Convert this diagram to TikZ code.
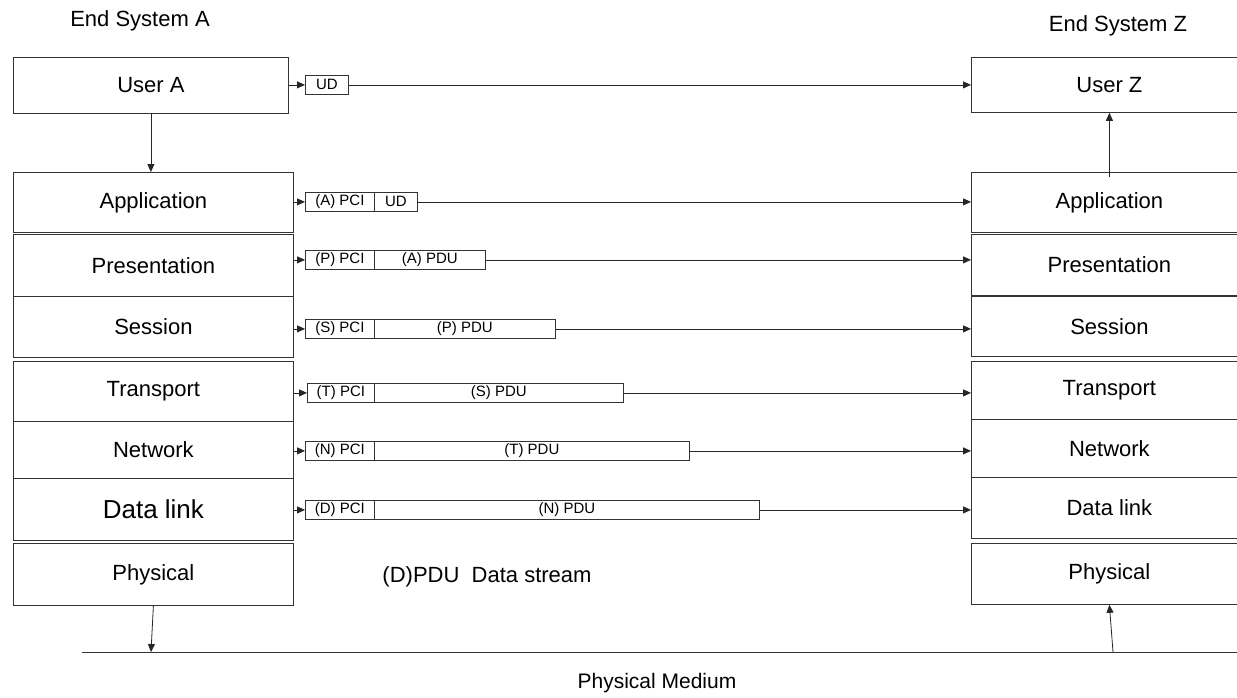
\documentclass[tikz,border=0pt]{standalone}
\usepackage{fontspec}
\setmainfont{Liberation Sans}
\usetikzlibrary{arrows.meta}
\begin{document}
\begin{tikzpicture}[x=1pt,y=-1pt,
  line width=0.8pt,
  layer/.style={draw=black!80, inner sep=0pt, anchor=north west, font=\fontsize{22}{26}\selectfont},
  pdu/.style={draw=black!80, inner sep=0pt, anchor=north west, minimum height=19pt, font=\fontsize{15}{18}\selectfont},
  flow/.style={-{Triangle[length=8pt,width=7pt]}, draw=black!85},
  lbl/.style={inner sep=0pt, font=\fontsize{22}{26}\selectfont},
  ]
\clip (0,0) rectangle (1237,697);
\fill[white] (0,0) rectangle (1237,697);
% left column
\node[layer, minimum width=275pt, minimum height=56pt] (userA) at (13,57) {User A};
\node[layer, minimum width=280pt, minimum height=60pt] (appA) at (13,172) {Application};
\node[layer, minimum width=280pt, minimum height=62pt] (preA) at (13,234) {Presentation};
\node[layer, minimum width=280pt, minimum height=61pt] (sesA) at (13,296) {Session};
\node[layer, minimum width=280pt, minimum height=60pt] (traA) at (13,361) {Transport};
\node[layer, minimum width=280pt, minimum height=57pt] (netA) at (13,421) {Network};
\node[layer, minimum width=280pt, minimum height=62pt, font=\fontsize{26}{30}\selectfont] (dlA) at (13,478) {Data link};
\node[layer, minimum width=280pt, minimum height=62pt] (phyA) at (13,543) {Physical};
% right column
\node[layer, minimum width=276pt, minimum height=55pt] (userZ) at (971,57) {User Z};
\node[layer, minimum width=276pt, minimum height=60pt] (appZ) at (971,172) {Application};
\node[layer, minimum width=276pt, minimum height=61pt] (preZ) at (971,234) {Presentation};
\node[layer, minimum width=276pt, minimum height=60pt] (sesZ) at (971,296) {Session};
\node[layer, minimum width=276pt, minimum height=58pt] (traZ) at (971,361) {Transport};
\node[layer, minimum width=276pt, minimum height=58pt] (netZ) at (971,419) {Network};
\node[layer, minimum width=276pt, minimum height=61pt] (dlZ) at (971,477) {Data link};
\node[layer, minimum width=276pt, minimum height=61pt] (phyZ) at (971,543) {Physical};
% PDU boxes
\node[pdu, minimum width=43pt] (ud) at (305,75) {UD};
\node[pdu, minimum width=69pt] (pciA) at (305,192) {(A) PCI};
\node[pdu, minimum width=43pt] (dA) at (374,192) {UD};
\node[pdu, minimum width=69pt] (pciP) at (305,250) {(P) PCI};
\node[pdu, minimum width=111pt] (dP) at (374,250) {(A) PDU};
\node[pdu, minimum width=69pt] (pciS) at (305,319) {(S) PCI};
\node[pdu, minimum width=181pt] (dS) at (374,319) {(P) PDU};
\node[pdu, minimum width=67pt] (pciT) at (307,383) {(T) PCI};
\node[pdu, minimum width=249pt] (dT) at (374,383) {(S) PDU};
\node[pdu, minimum width=69pt] (pciN) at (305,441) {(N) PCI};
\node[pdu, minimum width=315pt] (dN) at (374,441) {(T) PDU};
\node[pdu, minimum width=69pt] (pciD) at (305,500) {(D) PCI};
\node[pdu, minimum width=385pt] (dD) at (374,500) {(N) PDU};
% horizontal flows
\draw[flow] (userA.east |- ud.west) -- (ud.west);
\draw[flow] (ud.east) -- (ud.east -| userZ.west);
\draw[flow] (appA.east |- pciA.west) -- (pciA.west);
\draw[flow] (dA.east) -- (dA.east -| appZ.west);
\draw[flow] (preA.east |- pciP.west) -- (pciP.west);
\draw[flow] (dP.east) -- (dP.east -| preZ.west);
\draw[flow] (sesA.east |- pciS.west) -- (pciS.west);
\draw[flow] (dS.east) -- (dS.east -| sesZ.west);
\draw[flow] (traA.east |- pciT.west) -- (pciT.west);
\draw[flow] (dT.east) -- (dT.east -| traZ.west);
\draw[flow] (netA.east |- pciN.west) -- (pciN.west);
\draw[flow] (dN.east) -- (dN.east -| netZ.west);
\draw[flow] (dlA.east |- pciD.west) -- (pciD.west);
\draw[flow] (dD.east) -- (dD.east -| dlZ.west);
% vertical flows
\draw[flow] (userA.south) -- (userA.south |- appA.north);
\draw[flow] ([yshift=-5pt]appZ.north) -- (userZ.south);
% physical medium
\coordinate (mL) at (82,652);
\coordinate (mR) at (1240,652);
\coordinate (pa) at (151,652);
\coordinate (pz) at (1113,652);
\draw[black!80] (mL) -- (mR);
\draw[flow] (phyA.south) -- (pa);
\draw[flow] (pz) -- (phyZ.south);
% labels
\node[lbl] (esA) at (140,21) {End System A};
\node[lbl] (esZ) at (1118,26) {End System Z};
\node[lbl] (ds) at (487,577) {(D)PDU\ \ Data stream};
\node[lbl, font=\fontsize{21}{25}\selectfont] (pm) at (657,683) {Physical Medium};
\end{tikzpicture}
\end{document}
